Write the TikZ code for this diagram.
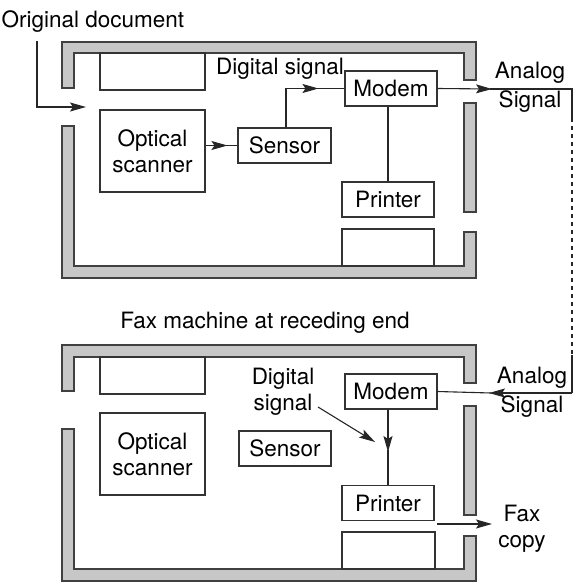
\documentclass[tikz,border=0pt]{standalone}
\usepackage{fontspec}
\setmainfont{TeX Gyre Heros}
\usetikzlibrary{arrows.meta,calc}

\begin{document}
\begin{tikzpicture}[x=1pt, y=-1pt, >={Stealth[length=16pt,width=9pt,inset=3pt]}, line width=1.1pt,
    wall/.style={draw=black!75, fill=black!22, line width=1.2pt},
    unit/.style={draw=black!80, line width=1.1pt},
    lbl/.style={font=\fontsize{22.5}{26}\selectfont, align=center, inner sep=0pt},
    sig/.style={draw=black!85, line width=1.1pt}]
\useasboundingbox (0,0) rectangle (577,586);

% Sending machine
\draw [wall] (62,88) -- (62,42) -- (476,42) -- (476,80) -- (464,80) -- (464,53) -- (74,53) -- (74,88) -- cycle;
\draw [wall] (62,126) -- (62,278) -- (476,278) -- (476,232) -- (464,232) -- (464,266) -- (74,266) -- (74,126) -- cycle;
\draw [wall] (464,103) rectangle (476,212);

\draw [unit] (100,53) rectangle (205,90);
\draw [unit] (342,229) rectangle (434,266);
\node [unit, lbl, minimum width=105pt, minimum height=82pt] (scanA) at (152.5,151) {Optical\\scanner};
\node [unit, lbl, minimum width=93pt, minimum height=35pt] (sensorA) at (284.5,145.5) {Sensor};
\node [unit, lbl, minimum width=92pt, minimum height=35pt] (modemA) at (391,88.5) {Modem};
\node [unit, lbl, minimum width=92pt, minimum height=35pt] (printerA) at (388,199.5) {Printer};

\node [lbl, anchor=west] (docA) at (1,22) {Original document};
\node [lbl] (digA) at (280,69) {Digital signal};
\node [lbl] (anaA) at (530,87) {Analog\\[3pt]Signal};

\coordinate (docTop) at (37,41);
\coordinate (docIn) at (86,107);
\coordinate (lineTop) at (572,89);
\coordinate (dashA) at (572,118);
\coordinate (dashB) at (572,355);
\coordinate (lineBot) at (572,393);

\draw [sig, ->] (docTop) |- (docIn);
\draw [sig, ->] (scanA.east |- sensorA.west) -- ($(sensorA.west)+(-10,0)$);
\draw [sig] ($(sensorA.west)+(-12,0)$) -- (sensorA.west);
\draw [sig, ->] (sensorA.north -| 286,0) |- ($(modemA.west)+(-26,0)$);
\draw [sig] ($(modemA.west)+(-28,0)$) -- (modemA.west);
\draw [sig, ->] (modemA.east) -- (492,89);
\draw [sig] (490,89) -- (lineTop) -- (dashA);
\draw [sig, dashed, dash pattern=on 4pt off 4pt] (dashA) -- (dashB);
\draw [sig] (dashB) -- (lineBot);
\draw [sig] (modemA.south -| 388,0) -- (printerA.north -| 388,0);

% Receiving machine
\node [lbl] (titleB) at (265,323) {Fax machine at receding end};

\draw [wall] (62,391) -- (62,345) -- (476,345) -- (476,383) -- (464,383) -- (464,357) -- (74,357) -- (74,391) -- cycle;
\draw [wall] (62,429) -- (62,581) -- (476,581) -- (476,536) -- (464,536) -- (464,569) -- (74,569) -- (74,429) -- cycle;
\draw [wall] (464,406) rectangle (476,515);

\draw [unit] (100,357) rectangle (205,394);
\draw [unit] (342,532) rectangle (435,569);
\node [unit, lbl, minimum width=105pt, minimum height=82pt] (scanB) at (152.5,454) {Optical\\scanner};
\node [unit, lbl, minimum width=92pt, minimum height=35pt] (sensorB) at (285,448.5) {Sensor};
\node [unit, lbl, minimum width=92pt, minimum height=35pt] (modemB) at (391,391.5) {Modem};
\node [unit, lbl, minimum width=92pt, minimum height=35pt] (printerB) at (388,503) {Printer};

\node [lbl] (digB) at (283,392) {Digital\\signal};
\node [lbl] (anaB) at (532,392) {Analog\\[3pt]Signal};
\node [lbl] (faxB) at (522,529) {Fax\\copy};

\coordinate (digTip) at (375,442);
\coordinate (faxTip) at (492,524);

\draw [sig, ->] (lineBot) -- (489,393);
\draw [sig] (491,393) -- (modemB.east);
\draw [sig, ->] (modemB.south -| 388,0) -- (388,452);
\draw [sig] (388,450) -- (printerB.north -| 388,0);
\draw [sig, ->] (318,407) -- (digTip);
\draw [sig, ->] (437,524) -- (faxTip);
\end{tikzpicture}
\end{document}
